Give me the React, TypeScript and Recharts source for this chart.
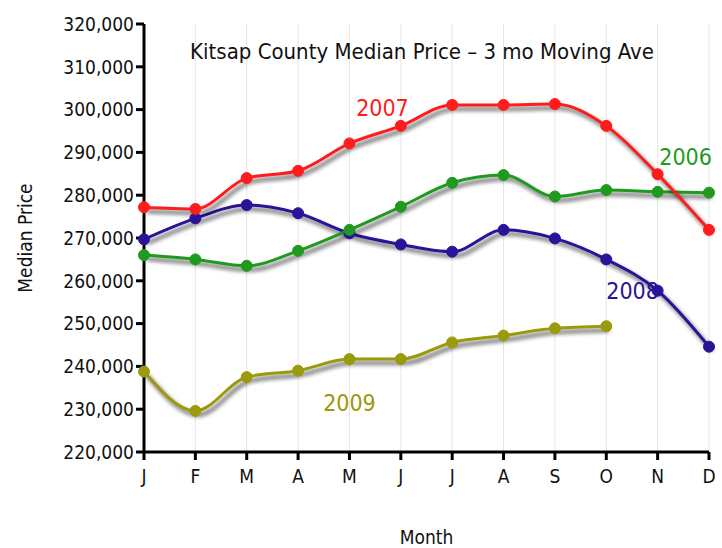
import { CartesianGrid, LabelList, Line, LineChart, XAxis, YAxis } from "recharts"

const months = ["J", "F", "M", "A", "M", "J", "J", "A", "S", "O", "N", "D"]
const y2006 = [266000, 265000, 263500, 267000, 271900, 277300, 282900, 284700, 279700, 281200, 280800, 280600]
const y2007 = [277200, 276800, 284000, 285700, 292100, 296200, 301100, 301100, 301300, 296200, 284900, 271900]
const y2008 = [269700, 274600, 277700, 275800, 271100, 268500, 266800, 271900, 269900, 265000, 257700, 244600]
const y2009 = [238800, 229600, 237500, 239000, 241700, 241700, 245600, 247200, 248900, 249400, null, null]
const yTicks = [220000, 230000, 240000, 250000, 260000, 270000, 280000, 290000, 300000, 310000, 320000]

const data = months.map((m, i) => ({
  key: i,
  month: m,
  y2006: y2006[i],
  y2007: y2007[i],
  y2008: y2008[i],
  y2009: y2009[i],
}))

const FONT = "'DejaVu Sans Condensed', 'DejaVu Sans', sans-serif"

const COLORS = {
  y2006: "#1f9a1f",
  y2007: "#ff1c1c",
  y2008: "#2a1299",
  y2009: "#9a9a0c",
}

// draws the year name next to one point of its line
const yearLabel = (text: string, idx: number, dx: number, dy: number, color: string) =>
  (props: any) => {
    if (props.index !== idx) return null
    return (
      <text
        x={Number(props.x) + dx}
        y={Number(props.y) + dy}
        textAnchor="middle"
        dominantBaseline="central"
        fill={color}
        style={{ fontFamily: FONT, fontSize: 23 }}
      >
        {text}
      </text>
    )
  }

const fmtY = (v: number) => v.toLocaleString("en-US")

export default function App() {
  const tickStyle = { fill: "#111", fontSize: 19, fontFamily: FONT }
  return (
    <div style={{ position: "absolute", left: 0, top: 0, background: "#fff" }}>
      <style>{`.shadow-line { filter: drop-shadow(3px 4px 2px rgba(0,0,0,0.7)); }`}</style>
      <LineChart width={722} height={548} data={data} margin={{ top: 24, right: 13, bottom: 0, left: 0 }}>
        <CartesianGrid horizontal={false} stroke="#e6e6e6" strokeWidth={1} />
        <XAxis
          dataKey="key"
          tickFormatter={(i: number) => months[i]}
          height={96}
          tickSize={8}
          tickMargin={10}
          axisLine={{ stroke: "#000", strokeWidth: 3 }}
          tickLine={{ stroke: "#000", strokeWidth: 3 }}
          tick={tickStyle}
          interval={0}
          label={{ value: "Month", position: "insideBottom", offset: 4, style: { fill: "#111", fontSize: 19, fontFamily: FONT } }}
        />
        <YAxis
          type="number"
          domain={[220000, 320000]}
          ticks={yTicks}
          tickFormatter={fmtY}
          width={144}
          tickSize={8}
          tickMargin={2}
          axisLine={{ stroke: "#000", strokeWidth: 3 }}
          tickLine={{ stroke: "#000", strokeWidth: 3 }}
          tick={tickStyle}
          interval={0}
          label={{
            value: "Median Price",
            angle: -90,
            position: "insideLeft",
            offset: 25,
            style: { fill: "#111", fontSize: 19, fontFamily: FONT, textAnchor: "middle" },
          }}
        />
        <text x={422} y={51} textAnchor="middle" dominantBaseline="central" style={{ fontFamily: FONT, fontSize: 22, fill: "#111" }}>
          Kitsap County Median Price – 3 mo Moving Ave
        </text>
        <Line
          dataKey="y2009"
          className="shadow-line"
          type="monotone"
          stroke={COLORS.y2009}
          strokeWidth={3}
          dot={{ r: 5.5, fill: COLORS.y2009, stroke: COLORS.y2009, strokeWidth: 1 }}
          isAnimationActive={false}
        >
          <LabelList dataKey="y2009" content={yearLabel("2009", 4, 0, 44, COLORS.y2009)} />
        </Line>
        <Line
          dataKey="y2008"
          className="shadow-line"
          type="monotone"
          stroke={COLORS.y2008}
          strokeWidth={3}
          dot={{ r: 5.5, fill: COLORS.y2008, stroke: COLORS.y2008, strokeWidth: 1 }}
          isAnimationActive={false}
        >
          <LabelList dataKey="y2008" content={yearLabel("2008", 10, -25, 0, COLORS.y2008)} />
        </Line>
        <Line
          dataKey="y2006"
          className="shadow-line"
          type="monotone"
          stroke={COLORS.y2006}
          strokeWidth={3}
          dot={{ r: 5.5, fill: COLORS.y2006, stroke: COLORS.y2006, strokeWidth: 1 }}
          isAnimationActive={false}
        >
          <LabelList dataKey="y2006" content={yearLabel("2006", 10, 28, -35, COLORS.y2006)} />
        </Line>
        <Line
          dataKey="y2007"
          className="shadow-line"
          type="monotone"
          stroke={COLORS.y2007}
          strokeWidth={3}
          dot={{ r: 5.5, fill: COLORS.y2007, stroke: COLORS.y2007, strokeWidth: 1 }}
          isAnimationActive={false}
        >
          <LabelList dataKey="y2007" content={yearLabel("2007", 4, 33, -35, COLORS.y2007)} />
        </Line>
      </LineChart>
    </div>
  )
}
